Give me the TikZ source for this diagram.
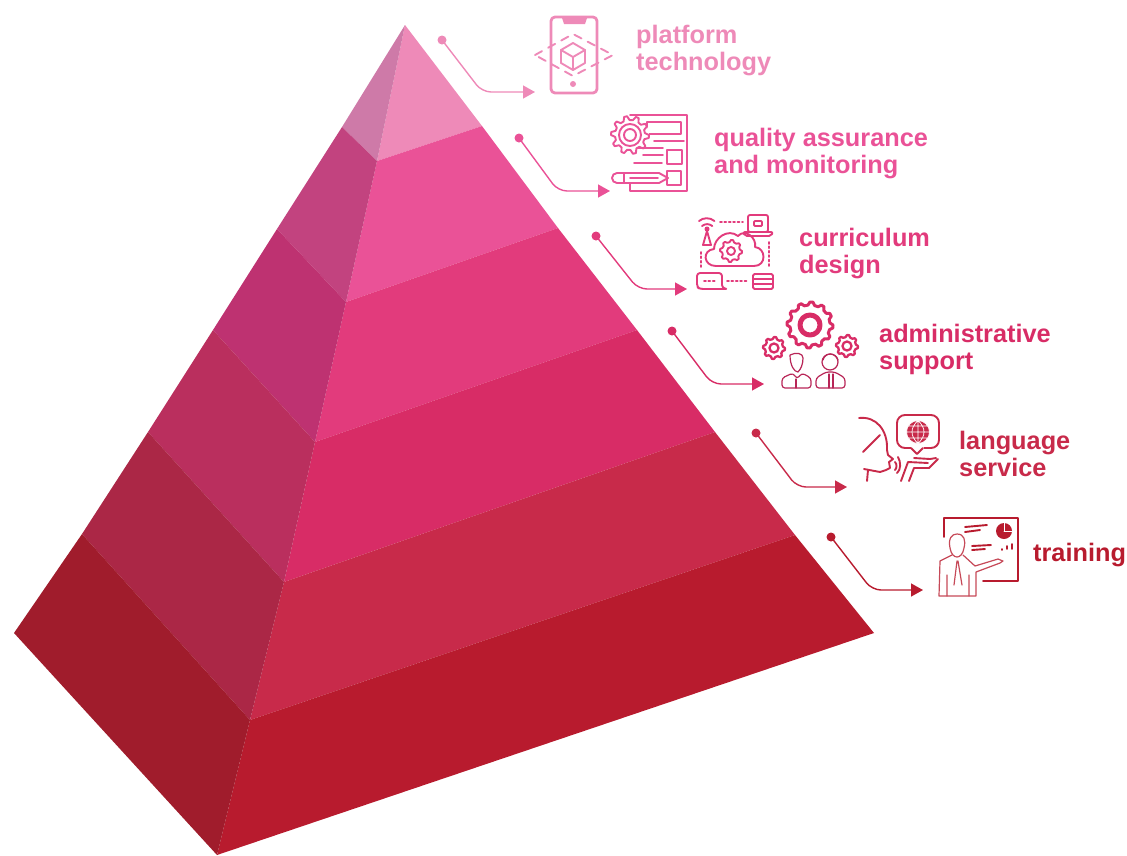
\documentclass[tikz,border=0pt]{standalone}
\usepackage{fontspec}
\setmainfont{Liberation Sans}
\usetikzlibrary{arrows.meta,calc}
\definecolor{ca}{HTML}{EE8AB8}
\definecolor{cb}{HTML}{EA5297}
\definecolor{cc}{HTML}{E23B7C}
\definecolor{cd}{HTML}{D82C66}
\definecolor{ce}{HTML}{C82A4A}
\definecolor{cf}{HTML}{B81B2E}
\definecolor{la}{HTML}{CE7AA8}
\definecolor{lb}{HTML}{C2437F}
\definecolor{lc}{HTML}{BE3271}
\definecolor{ld}{HTML}{BA2F5E}
\definecolor{le}{HTML}{AB2746}
\definecolor{lf}{HTML}{A01C2C}
\tikzset{
  dotnode/.style={circle,inner sep=0pt,minimum size=9pt},
  conn/.style={line width=1.4pt,rounded corners=9pt,-{Triangle[length=12pt,width=13pt]}},
  lab/.style={font=\fontsize{25.3}{26.5}\selectfont\bfseries,align=left,anchor=north west,inner sep=0pt},
  ic/.style={line width=1.9pt,line cap=round,line join=round},
  ict/.style={line width=2.8pt,line cap=round,line join=round},
  dots/.style={line width=1.9pt,dash pattern=on 1.8pt off 2.6pt}
}
\newcommand{\gearshape}[5]{% x y outer inner teeth
  \draw ($(#1,#2)+(0:#3)$)
    \foreach \k in {1,...,#5}{
      -- ($(#1,#2)+({(\k-0.75)*360/#5}:#3)$)
      -- ($(#1,#2)+({(\k-0.55)*360/#5}:#4)$)
      -- ($(#1,#2)+({(\k-0.2)*360/#5}:#4)$)
      -- ($(#1,#2)+({\k*360/#5}:#3)$)
    } -- cycle;}
\begin{document}
\begin{tikzpicture}[x=1pt,y=-1pt]
\useasboundingbox (0,0) rectangle (1127,855);
% pyramid right faces
\fill[ca] (405,25) -- (482,126) -- (377,161) -- cycle;
\fill[cb] (482,126) -- (558,228) -- (346,302) -- (377,161) -- cycle;
\fill[cc] (558,228) -- (637,330) -- (315,442) -- (346,302) -- cycle;
\fill[cd] (637,330) -- (715,432) -- (284,582) -- (315,442) -- cycle;
\fill[ce] (715,432) -- (795,535) -- (250,720) -- (284,582) -- cycle;
\fill[cf] (795,535) -- (874,633) -- (217,855) -- (250,720) -- cycle;
% pyramid left faces
\fill[la] (405,25) -- (377,161) -- (342,127) -- cycle;
\fill[lb] (342,127) -- (377,161) -- (346,302) -- (277,229) -- cycle;
\fill[lc] (277,229) -- (346,302) -- (315,442) -- (213,330) -- cycle;
\fill[ld] (213,330) -- (315,442) -- (284,582) -- (148,432) -- cycle;
\fill[le] (148,432) -- (284,582) -- (250,720) -- (82,534) -- cycle;
\fill[lf] (82,534) -- (250,720) -- (217,855) -- (14,633) -- cycle;
% connectors
\node[dotnode,fill=ca] (d1) at (442,40) {};
\node[dotnode,fill=cb] (d2) at (519,138) {};
\node[dotnode,fill=cc] (d3) at (596,236) {};
\node[dotnode,fill=cd] (d4) at (672,331) {};
\node[dotnode,fill=ce] (d5) at (756,433) {};
\node[dotnode,fill=cf] (d6) at (831,537) {};
\coordinate (b1) at (482,92);  \coordinate (t1) at (535,92);
\coordinate (b2) at (558,191); \coordinate (t2) at (610,191);
\coordinate (b3) at (638,289); \coordinate (t3) at (687,289);
\coordinate (b4) at (712,384); \coordinate (t4) at (764,384);
\coordinate (b5) at (797,487); \coordinate (t5) at (847,487);
\coordinate (b6) at (872,590); \coordinate (t6) at (923,590);
\draw[conn,draw=ca] (d1.center) -- (b1) -- (t1);
\draw[conn,draw=cb] (d2.center) -- (b2) -- (t2);
\draw[conn,draw=cc] (d3.center) -- (b3) -- (t3);
\draw[conn,draw=cd] (d4.center) -- (b4) -- (t4);
\draw[conn,draw=ce] (d5.center) -- (b5) -- (t5);
\draw[conn,draw=cf] (d6.center) -- (b6) -- (t6);
% labels
\node[lab,text=ca] (l1) at (636,25) {platform\\technology};
\node[lab,text=cb] (l2) at (714,128) {quality assurance\\and monitoring};
\node[lab,text=cc] (l3) at (799,228) {curriculum\\design};
\node[lab,text=cd] (l4) at (879,324) {administrative\\support};
\node[lab,text=ce] (l5) at (959,431) {language\\service};
\node[lab,text=cf] (l6) at (1033,543) {training};
% icon 1 phone
\begin{scope}[ic,draw=ca,color=ca]
\draw[ict,rounded corners=4pt] (551,17) rectangle (597,93);
\fill (562,18) -- (587,18) -- (585,24) -- (564,24) -- cycle;
\fill (573,84) circle (3);
\draw (573,43) -- (585,50) -- (585,63) -- (573,70) -- (561,63) -- (561,50) -- cycle;
\draw (561,50) -- (573,57) -- (585,50) (573,57) -- (573,70);
\draw[dash pattern=on 8pt off 7pt] (535,55) -- (573,34) -- (613,55) -- (573,76) -- cycle;
\end{scope}
% icon 2 document
\begin{scope}[ic,draw=cb,color=cb]
\draw (630,115) -- (687,115) -- (687,191) -- (630,191) -- (630,183);
\draw[fill=white] (647,122) rectangle (681,134);
\draw[fill=white] (667,150) rectangle (682,164);
\draw[fill=white] (667,171) rectangle (681,185);
\draw[fill=white,draw=none] (630,135) circle (19);
\gearshape{630}{135}{19}{15}{10}
\draw (630,135) circle (11) (630,135) circle (6);
\draw (654,141) -- (684,141);
\draw (637,148) -- (663,148) (643,155) -- (663,155) (634,163) -- (662,163);
\draw[fill=white] (668,178) -- (659,173) -- (617,173) arc (270:90:5) -- (659,183) -- cycle;
\draw (624,173) -- (624,183) (630,178) -- (658,178);
\end{scope}
% icon 3 cloud
\begin{scope}[ic,draw=cc,color=cc]
\draw (699,221) arc (-130:-50:12);
\draw (702,226) arc (-130:-50:8);
\fill (707,229) circle (2.5);
\draw (707,231) -- (703,245) -- (711,245) -- cycle;
\draw[dots] (720,222) -- (743,222);
\draw[rounded corners=2pt] (748,215) rectangle (768,232);
\draw[rounded corners=1pt] (754,221) rectangle (762,226);
\draw[rounded corners=2pt] (743,232) -- (773,232) -- (771,236) -- (745,236) -- cycle;
\draw (716,266) .. controls (703,266) and (702,250) .. (714,249) .. controls (714,238) and (728,228) .. (738,236) .. controls (745,228) and (757,238) .. (755,247) .. controls (766,248) and (767,266) .. (754,266) -- cycle;
\gearshape{731}{251}{11}{9}{8}
\draw (731,251) circle (4);
\draw[dots] (701,252) -- (701,268);
\draw[dots] (769,242) -- (769,268);
\draw[rounded corners=3pt] (697,273) -- (722,273) -- (722,288) -- (728,289) -- (700,289) -- (697,287) -- cycle;
\draw[dots] (704,281) -- (717,281);
\draw[dots] (727,281) -- (748,281);
\draw[rounded corners=1.5pt] (753,274) rectangle (773,289);
\draw (753,279) -- (773,279) (753,284) -- (773,284);
\end{scope}
% icon 4 admin
\begin{scope}[ic,line width=3pt,draw=cd,color=cd]
\gearshape{810}{325}{23}{20}{12}
\draw[line width=5pt] (810,325) circle (10);
\end{scope}
\begin{scope}[ic,line width=2.3pt,draw=cd,color=cd]
\gearshape{774}{348}{11}{9}{8}
\draw (774,348) circle (4.5);
\gearshape{847}{346}{11}{9}{8}
\draw (847,346) circle (4.5);
\end{scope}
\begin{scope}[ic,line width=1.2pt,draw=cd!85!black]
\draw (790,355) .. controls (796,352) and (803,353) .. (803,358) .. controls (803,364) and (801,369) .. (798,372) .. controls (794,372) and (790,365) .. (790,355);
\draw[rounded corners=3pt] (782,388) -- (782,378) -- (793,373) -- (797,379) -- (802,373) -- (811,378) -- (811,388) -- cycle;
\draw (796,379) -- (796,388);
\draw (830,362) circle (8);
\draw (823,360) .. controls (825,352) and (836,352) .. (838,360);
\draw[rounded corners=3pt] (816,388) -- (816,378) -- (826,372) -- (835,372) -- (845,378) -- (845,388) -- cycle;
\draw (829,374) -- (829,388) (833,374) -- (833,388);
\end{scope}
% icon 5 language
\begin{scope}[ic,draw=ce,color=ce]
\draw (859,418) .. controls (876,416) and (888,430) .. (887,450);
\draw (880,435) -- (863,452);
\draw (887,450) -- (888,455) -- (893,459) -- (889,462) -- (890,468) -- (886,470) -- (880,472) -- (864,469);
\draw (868,470) -- (867,481);
\draw (895,462) .. controls (897,464) and (897,468) .. (895,470);
\draw (898,457) .. controls (901,462) and (901,470) .. (897,473);
\draw[rounded corners=8pt] (897,415) rectangle (939,448);
\draw[fill=white,draw=none] (911,446) rectangle (924,449);
\draw (911,448) -- (917,454) -- (923,448);
\fill (918,432) circle (11.5);
\draw[white,line width=0.7pt] (918,432) circle (11.5) (918,420.5) -- (918,443.5) (906.5,432) -- (929.5,432) (908,426) -- (928,426) (908,438) -- (928,438) (918,420.5) .. controls (910,428) and (910,436) .. (918,443.5) (918,420.5) .. controls (926,428) and (926,436) .. (918,443.5);
\draw (901,481) -- (908,462) -- (928,463) (909,481) -- (914,468) -- (929,468) -- (938,459) (914,458) -- (930,459) -- (936,458);
\end{scope}
% icon 6 training
\begin{scope}[ic,draw=cf,color=cf]
\draw (944,537) -- (944,518) -- (1018,518) -- (1018,581) -- (983,581);
\fill (1004,531) circle (8);
\draw[white,line width=0.7pt] (1004,531) -- (1004,523) (1004,531) -- (1012,531);
\draw (965,527) -- (987,525) (965,532) -- (980,530);
\draw (972,546) -- (991,545) (972,550) -- (985,549);
\draw (1002,550) -- (1002,549) (1007,549) -- (1007,546) (1012,549) -- (1012,544);
\end{scope}
\begin{scope}[ic,line width=1.2pt,draw=cf!80!white]
\draw (950,548) .. controls (948,538) and (952,534) .. (957,534) .. controls (964,534) and (966,540) .. (964,548) .. controls (963,554) and (960,557) .. (957,557) .. controls (954,557) and (951,554) .. (950,548);
\draw (952,555) -- (940,561) -- (939,596) -- (976,596) -- (976,572) -- (1000,563) -- (1003,561) -- (998,559) -- (975,566) -- (963,555);
\draw (957,561) -- (954,585) (958,561) -- (962,585) (947,575) -- (947,596) (969,575) -- (969,596);
\end{scope}
\end{tikzpicture}
\end{document}
